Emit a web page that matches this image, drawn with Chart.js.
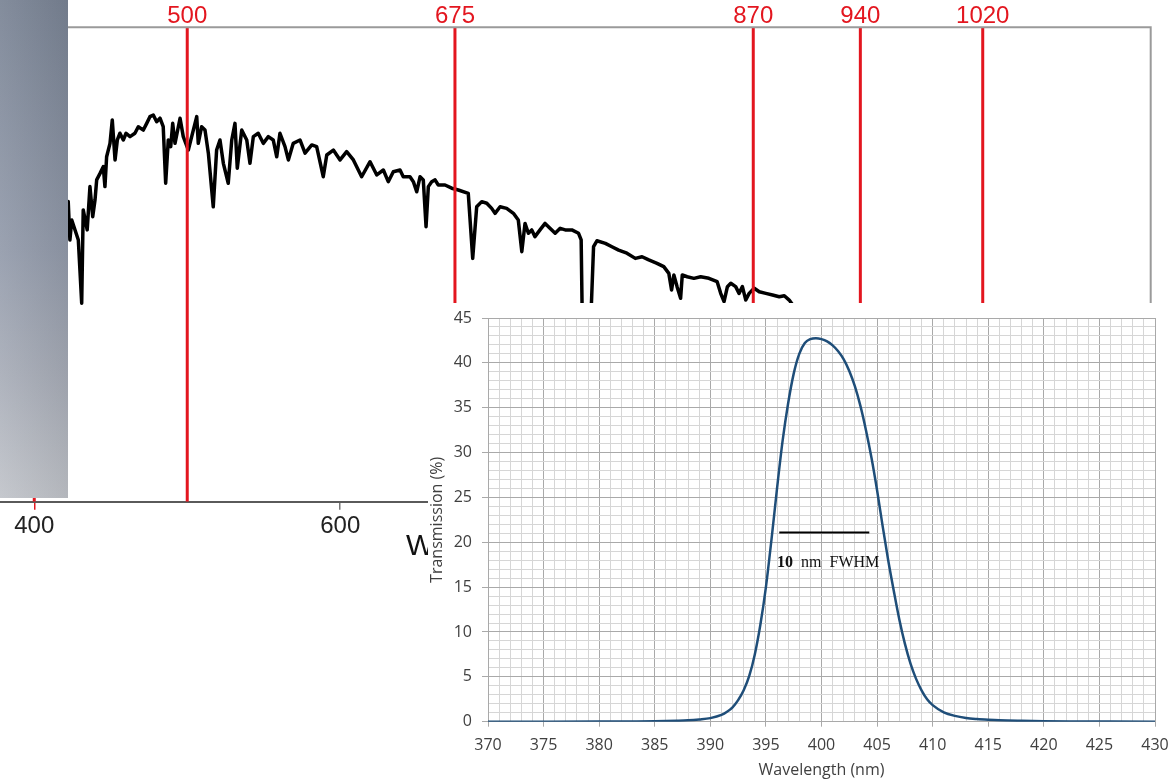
<!DOCTYPE html>
<html>
<head>
<meta charset="utf-8">
<script src="https://cdn.jsdelivr.net/npm/chart.js@4.4.0/dist/chart.umd.min.js"></script>
<style>
  html, body { margin: 0; padding: 0; background: #fff; }
  #wrap { position: relative; width: 1173px; height: 782px; overflow: hidden; }
  #bg { position: absolute; left: 0; top: 0; z-index: 0; }
  #panel {
    position: absolute; left: 0; top: 0; width: 68px; height: 498px; z-index: 1;
    background:
      linear-gradient(to right, rgba(255,255,255,0.07), rgba(0,0,0,0.07)),
      linear-gradient(to bottom, #7a8495 0%, #939bab 50%, #a8adb8 75%, #c1c4ca 100%);
  }
  #bgTitle {
    position: absolute; left: 406px; top: 530px; z-index: 1;
    font: 30px/30px "Liberation Sans", Arial, sans-serif; color: #111; white-space: nowrap;
  }
  #inset { position: absolute; left: 428px; top: 303px; width: 745px; height: 479px; background: #fff; z-index: 2; }
  #inset canvas { display: block; }
</style>
</head>
<body>
<div id="wrap">
  <canvas id="bg" width="1173" height="782"></canvas>
  <div id="panel"></div>
  <div id="bgTitle">Wavelength (nm)</div>
  <div id="inset"><canvas id="tr" width="745" height="479"></canvas></div>
</div>
<script>
// solar spectrum behind (wavelength nm / irradiance, arbitrary units)
const specWl = [400, 405, 410, 415, 418, 420,
  422.2, 423.3, 424.5, 428.8, 431.0, 432.0, 434.6, 436.4, 438.2, 439.7, 440.8, 443.0, 445.1, 446.2,
  447.3, 449.5, 451.0, 452.8, 454.3, 456.0, 458.2, 460.0, 462.6, 465.8, 468.0, 471.3, 473.5, 475.6,
  477.8, 480.0, 482.2, 484.3, 485.9, 487.6, 489.2, 490.5, 492.0, 495.3, 497.4, 500.7, 502.9, 506.2,
  507.2, 509.4, 511.6, 513.8, 517.0, 519.2, 521.4, 523.6, 526.8, 529.1, 531.2, 532.7, 535.6, 538.9,
  541.0, 543.2, 546.4, 549.7, 553.0, 556.2, 558.5, 560.6, 563.9, 566.1, 569.3, 573.7, 577.0, 581.4,
  584.6, 588.9, 591.2, 595.5, 599.9, 604.2, 608.6, 614.0, 619.5, 623.9, 628.2, 631.4, 634.7, 639.1,
  641.2, 645.6, 647.8, 650.0, 652.2, 654.3, 656.1, 657.6, 659.8, 662.0, 664.1, 668.5, 672.9, 677.2,
  683.7, 686.6, 689.2, 692.5, 695.8, 699.0, 701.2, 704.5, 708.8, 713.2, 716.4, 718.7, 720.8, 723.0,
  725.2, 727.3, 730.6, 733.9, 736.1, 740.5, 743.8, 747.1, 751.4, 755.8, 757.5, 758.7, 762.5, 765.6,
  767.8, 773.3, 777.6, 782.0, 787.4, 792.9, 797.3, 801.7, 807.1, 811.5, 814.8, 816.6, 818.1, 820.2,
  822.5, 823.6, 826.8, 831.2, 835.6, 841.0, 846.4, 848.7, 850.9, 853.1, 855.3, 858.5, 860.7, 862.9,
  865.1, 867.3, 870.6, 873.9, 878.2, 882.6, 887.0, 890.3, 893.5, 900, 915, 930, 945, 960, 1000, 1050, 1100];
const specVal = [1.25, 1.35, 1.30, 1.45, 1.40, 1.50,
  1.518, 1.324, 1.425, 1.324, 1.004, 1.476, 1.375, 1.594, 1.442, 1.526, 1.628, 1.661, 1.695, 1.594,
  1.745, 1.813, 1.931, 1.729, 1.830, 1.864, 1.830, 1.864, 1.847, 1.864, 1.897, 1.880, 1.914, 1.948,
  1.956, 1.922, 1.940, 1.897, 1.611, 1.830, 1.796, 1.914, 1.813, 1.940, 1.847, 1.779, 1.847, 1.948,
  1.813, 1.897, 1.880, 1.763, 1.492, 1.779, 1.830, 1.712, 1.611, 1.830, 1.914, 1.687, 1.880, 1.830,
  1.712, 1.847, 1.864, 1.813, 1.847, 1.830, 1.745, 1.864, 1.796, 1.729, 1.813, 1.830, 1.763, 1.805,
  1.796, 1.644, 1.754, 1.779, 1.729, 1.771, 1.729, 1.644, 1.720, 1.653, 1.678, 1.619, 1.669, 1.678,
  1.644, 1.644, 1.619, 1.568, 1.644, 1.628, 1.391, 1.594, 1.619, 1.628, 1.602, 1.602, 1.586, 1.577,
  1.560, 1.231, 1.492, 1.518, 1.510, 1.484, 1.459, 1.492, 1.484, 1.459, 1.425, 1.265, 1.408, 1.358,
  1.375, 1.341, 1.375, 1.408, 1.391, 1.358, 1.383, 1.375, 1.375, 1.358, 1.324, 0.65, 0.65, 1.290,
  1.320, 1.307, 1.290, 1.273, 1.257, 1.231, 1.239, 1.223, 1.206, 1.189, 1.155, 1.071, 1.147, 1.088,
  1.029, 1.147, 1.138, 1.130, 1.138, 1.130, 1.113, 1.054, 1.012, 1.088, 1.105, 1.088, 1.054, 1.088,
  1.020, 1.054, 1.080, 1.062, 1.054, 1.046, 1.037, 1.042, 1.020, 0.95, 0.85, 0.45, 0.55, 0.75, 0.72, 0.65, 0.55];
const redLines = [400, 500, 675, 870, 940, 1020];
const bgTicks = [400, 600, 800, 1000];

// filter transmission curve (inset)
const trWl = [370, 375, 380, 383, 385, 386, 387, 388, 389, 390, 391, 391.5, 392, 392.5, 393, 393.5, 394,
  394.5, 395, 395.5, 396, 396.5, 397, 397.5, 398, 398.5, 399, 399.5, 400, 400.5, 401, 401.5, 402,
  402.5, 403, 403.5, 404, 404.5, 405, 405.5, 406, 406.5, 407, 407.5, 408, 408.5, 409, 409.5, 410,
  411, 412, 413, 414, 415, 416, 418, 420, 423, 426, 430];
const trVal = [0, 0, 0.01, 0.03, 0.05, 0.07, 0.1, 0.15, 0.25, 0.4, 0.75, 1.1, 1.6, 2.4, 3.5, 5.1, 7.5,
  10.8, 15, 20.3, 26, 31.3, 35.5, 38.8, 41, 42.2, 42.65, 42.75, 42.65, 42.4, 41.95, 41.3, 40.4,
  39.1, 37.4, 35.2, 32.5, 29.4, 25.8, 21.8, 18.0, 14.6, 11.4, 8.7, 6.5, 4.8, 3.5, 2.5, 1.85,
  1.05, 0.65, 0.42, 0.3, 0.22, 0.16, 0.1, 0.06, 0.03, 0.01, 0];
const fwhmX = [396.2, 404.3];
const fwhmY = 21.1;
const fwhmNum = '10';
const fwhmUnit = '  nm  FWHM';
const fwhmLabelAt = [396.0, 17.2];

const RED = '#e3161f';
const MAJOR = '#a9a9a9';
const MINOR = '#d6d6d6';

Chart.defaults.font.family = '"Open Sans", "Noto Sans", sans-serif';

const bgDecor = {
  id: 'bgDecor',
  afterDatasetsDraw(chart) {
    const { ctx, chartArea: a } = chart;
    const x = chart.scales.x;
    ctx.save();
    ctx.strokeStyle = '#9a9a9a';
    ctx.lineWidth = 2;
    ctx.beginPath();
    ctx.moveTo(a.left, a.top);
    ctx.lineTo(a.right, a.top);
    ctx.lineTo(a.right, a.bottom);
    ctx.stroke();
    ctx.fillStyle = RED;
    ctx.font = '24px "Liberation Sans", Arial, sans-serif';
    ctx.textAlign = 'center';
    ctx.textBaseline = 'alphabetic';
    redLines.forEach(w => ctx.fillText(String(w), x.getPixelForValue(w), a.top - 4));
    ctx.restore();
  }
};

new Chart(document.getElementById('bg'), {
  type: 'line',
  data: {
    datasets: [
      ...redLines.map(w => ({
        data: [{ x: w, y: 0 }, { x: w, y: 2.4 }],
        borderColor: RED, borderWidth: 3, pointRadius: 0, order: 0
      })),
      {
        data: specWl.map((w, i) => ({ x: w, y: specVal[i] })),
        borderColor: '#000', borderWidth: 3.5, pointRadius: 0, tension: 0,
        borderJoinStyle: 'round', order: 1
      }
    ]
  },
  options: {
    responsive: false,
    animation: false,
    layout: { padding: { left: 0, right: 22.3, top: 27.3, bottom: 0 } },
    plugins: { legend: { display: false }, tooltip: { enabled: false } },
    scales: {
      x: {
        type: 'linear', min: 377.6, max: 1129.8,
        afterBuildTicks: s => { s.ticks = bgTicks.map(v => ({ value: v })); },
        afterFit: s => { s.height = 280.3; s.paddingLeft = 0; s.paddingRight = 0; },
        border: { color: '#5a5a5a', width: 2 },
        grid: {
          drawOnChartArea: false, tickLength: 8, lineWidth: 1.5,
          tickColor: c => (c.tick && c.tick.value === 400 ? RED : '#777')
        },
        ticks: { font: { family: '"Liberation Sans", Arial, sans-serif', size: 24 }, color: '#222', padding: 2, maxRotation: 0 }
      },
      y: { display: false, min: 0, max: 2.4 }
    }
  },
  plugins: [bgDecor]
});

// "10 nm FWHM" under the bar, number a bit heavier like the source
const fwhmText = {
  id: 'fwhmText',
  afterDatasetsDraw(chart) {
    const { ctx, scales: { x, y } } = chart;
    let px = x.getPixelForValue(fwhmLabelAt[0]);
    const py = y.getPixelForValue(fwhmLabelAt[1]);
    ctx.save();
    ctx.fillStyle = '#111';
    ctx.textAlign = 'left';
    ctx.textBaseline = 'alphabetic';
    ctx.font = 'bold 16px "Liberation Serif", "DejaVu Serif", serif';
    ctx.fillText(fwhmNum, px, py);
    px += ctx.measureText(fwhmNum).width;
    ctx.font = '16px "Liberation Serif", "DejaVu Serif", serif';
    ctx.fillText(fwhmUnit, px, py);
    ctx.restore();
  }
};

const isMajor = c => c.tick && Math.round(c.tick.value) % 5 === 0;

new Chart(document.getElementById('tr'), {
  type: 'line',
  data: {
    datasets: [
      {
        data: fwhmX.map(v => ({ x: v, y: fwhmY })),
        borderColor: '#000', borderWidth: 2, pointRadius: 0, order: 0
      },
      {
        data: trWl.map((w, i) => ({ x: w, y: trVal[i] })),
        borderColor: '#1f4e79', borderWidth: 2.5, pointRadius: 0,
        cubicInterpolationMode: 'monotone', order: 1
      }
    ]
  },
  options: {
    responsive: false,
    animation: false,
    layout: { padding: { left: 0, right: 18, top: 15, bottom: 0 } },
    plugins: { legend: { display: false }, tooltip: { enabled: false } },
    scales: {
      x: {
        type: 'linear', min: 370, max: 430,
        afterFit: s => { s.height = 60.3; s.paddingLeft = 0; s.paddingRight = 0; },
        border: { color: MAJOR },
        grid: { color: c => (isMajor(c) ? MAJOR : MINOR), tickColor: c => (isMajor(c) ? MAJOR : 'rgba(0,0,0,0)'), tickLength: 5 },
        ticks: {
          stepSize: 1, autoSkip: false, maxTicksLimit: 100, maxRotation: 0, padding: 9,
          font: { size: 16 }, color: '#404040',
          callback: v => (v % 5 === 0 ? v : '')
        },
        title: { display: true, text: 'Wavelength (nm)', font: { size: 16 }, color: '#404040', padding: { top: 0, bottom: 2 } }
      },
      y: {
        min: 0, max: 45,
        afterFit: s => { s.width = 60; s.paddingTop = 0; s.paddingBottom = 0; },
        border: { color: MAJOR },
        grid: { color: c => (isMajor(c) ? MAJOR : MINOR), tickColor: c => (isMajor(c) ? MAJOR : 'rgba(0,0,0,0)'), tickLength: 6 },
        ticks: {
          stepSize: 1, autoSkip: false, maxTicksLimit: 100, padding: 10,
          font: { size: 16 }, color: '#404040',
          callback: v => (v % 5 === 0 ? v : '')
        },
        title: { display: true, text: 'Transmission (%)', font: { size: 16 }, color: '#404040', padding: 0 }
      }
    }
  },
  plugins: [fwhmText]
});
</script>
</body>
</html>
